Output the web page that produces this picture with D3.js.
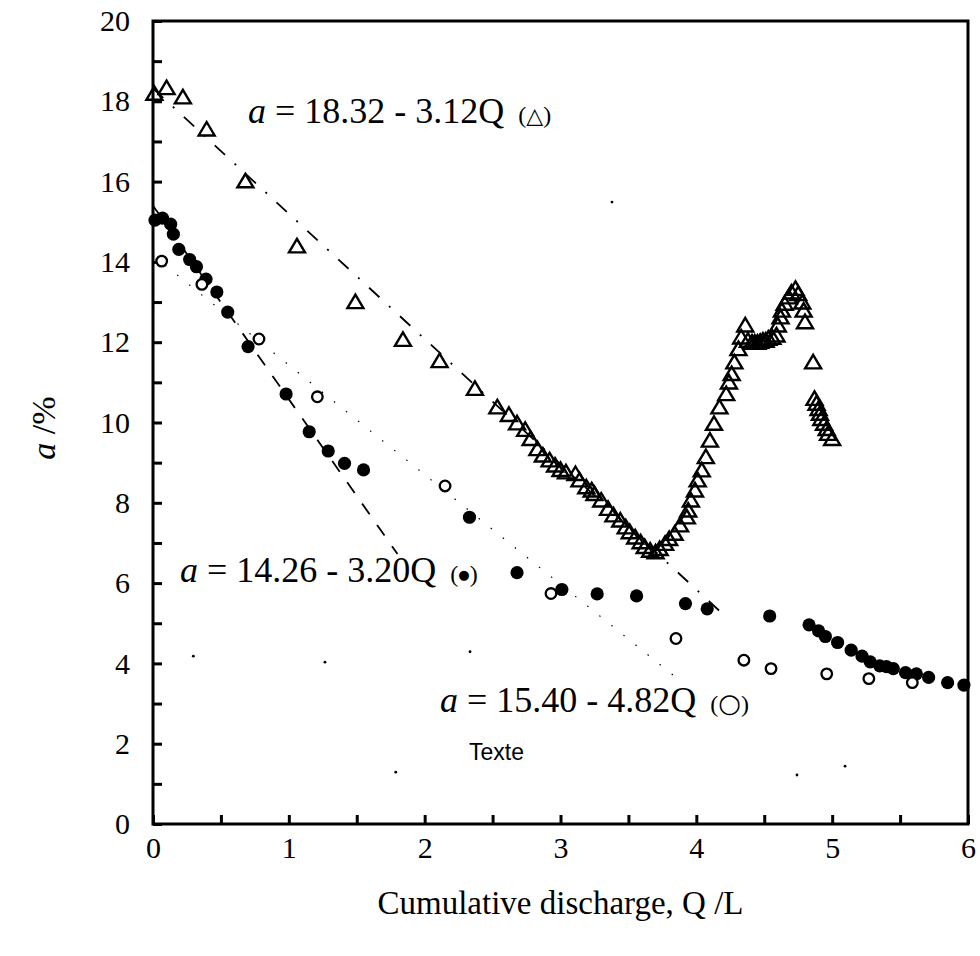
<!DOCTYPE html>
<html>
<head>
<meta charset="utf-8">
<script src="https://cdn.jsdelivr.net/npm/d3@7"></script>
<style>
  body { margin: 0; background: #fff; }
  svg text { font-family: "Liberation Serif", "Times New Roman", serif; fill: #000; }
</style>
</head>
<body>
<div id="chart"></div>
<script>
// triangles (Q, a)
const triQ = [0.01, 0.10, 0.22, 0.395, 0.68, 1.06, 1.49, 1.84, 2.11, 2.37, 2.535, 2.62, 2.68, 2.74, 2.78, 2.83, 2.87, 2.92, 2.96, 3.00,
  3.04, 3.11, 3.14, 3.19, 3.23, 3.25, 3.30, 3.35, 3.39, 3.44, 3.48, 3.51, 3.55, 3.59, 3.62, 3.66, 3.70, 3.73, 3.77, 3.80,
  3.84, 3.88, 3.93, 3.94, 3.96, 3.99, 4.01, 4.04, 4.07, 4.10, 4.13, 4.17, 4.22, 4.24, 4.26, 4.28, 4.31, 4.33, 4.36, 4.38,
  4.41, 4.43, 4.45, 4.47, 4.49, 4.51, 4.53, 4.56, 4.59, 4.60, 4.62, 4.63, 4.65, 4.68, 4.70, 4.73, 4.75, 4.78, 4.79, 4.80,
  4.86, 4.87, 4.885, 4.90, 4.91, 4.92, 4.94, 4.96, 4.97, 5.00];
const triA = [18.2, 18.34, 18.11, 17.31, 16.02, 14.40, 13.01, 12.07, 11.54, 10.85, 10.39, 10.20, 9.99, 9.83, 9.60, 9.35, 9.19, 9.07, 8.94, 8.83,
  8.77, 8.73, 8.57, 8.40, 8.32, 8.23, 8.07, 7.86, 7.70, 7.57, 7.40, 7.28, 7.15, 7.03, 6.91, 6.82, 6.78, 6.86, 6.99, 7.11,
  7.24, 7.45, 7.65, 7.82, 8.07, 8.32, 8.57, 8.82, 9.15, 9.56, 9.98, 10.39, 10.72, 11.01, 11.22, 11.51, 11.84, 12.13, 12.43, 12.05,
  12.0, 12.0, 12.0, 12.02, 12.05, 12.05, 12.1, 12.12, 12.18, 12.43, 12.63, 12.80, 12.97, 13.13, 13.25, 13.34, 13.21, 13.00, 12.80, 12.51,
  11.51, 10.60, 10.48, 10.35, 10.23, 10.10, 9.98, 9.85, 9.73, 9.60];

// filled circles
const fillQ = [0.015, 0.07, 0.13, 0.15, 0.19, 0.27, 0.32, 0.39, 0.47, 0.55, 0.70, 0.98, 1.15, 1.29, 1.41, 1.55, 2.33, 2.68, 3.01, 3.27,
  3.56, 3.92, 4.08, 4.54, 4.83, 4.90, 4.95, 5.04, 5.14, 5.22, 5.28, 5.35, 5.40, 5.45, 5.54, 5.62, 5.71, 5.85, 5.97];
const fillA = [15.04, 15.09, 14.94, 14.69, 14.31, 14.06, 13.88, 13.57, 13.25, 12.75, 11.89, 10.71, 9.77, 9.29, 8.98, 8.82, 7.64, 6.26, 5.84, 5.73,
  5.68, 5.49, 5.36, 5.18, 4.96, 4.81, 4.67, 4.52, 4.33, 4.18, 4.04, 3.94, 3.92, 3.87, 3.77, 3.74, 3.65, 3.52, 3.46];

// open circles
const openQ = [0.064, 0.36, 0.78, 1.21, 2.15, 2.93, 3.85, 4.35, 4.55, 4.96, 5.27, 5.59];
const openA = [14.02, 13.44, 12.08, 10.64, 8.42, 5.74, 4.62, 4.08, 3.87, 3.74, 3.62, 3.52];

// fit lines as drawn: intercept, slope, Q range, dash pattern
const fitIntercept = [18.32, 15.40, 14.16];
const fitSlope = [-3.12, -4.82, -2.73];
const fitQmax = [4.2, 1.8, 3.85];
const fitDash = ['14,13,2,13', '13,13', '1.5,14'];

// stray specks in the picture
const speckQ = [0.297, 1.266, 2.334, 1.787, 4.741, 5.095, 3.379];
const speckA = [4.18, 4.03, 4.29, 1.29, 1.22, 1.44, 15.49];

const xMajor = [0, 1, 2, 3, 4, 5, 6];
const yMajor = [0, 2, 4, 6, 8, 10, 12, 14, 16, 18, 20];

const width = 980, height = 956;
const x = d3.scaleLinear().domain([0, 6]).range([153, 968]);
const y = d3.scaleLinear().domain([0, 20]).range([824, 21]);

const svg = d3.select('#chart').append('svg')
  .attr('width', width)
  .attr('height', height);

// inner ticks
svg.append('g')
  .attr('transform', 'translate(0,824)')
  .call(d3.axisBottom(x).tickValues(d3.range(0, 6.01, 0.5)).tickSize(-9).tickFormat(''))
  .call(g => g.select('.domain').remove())
  .call(g => g.selectAll('line').attr('stroke', '#000').attr('stroke-width', 3));
svg.append('g')
  .attr('transform', 'translate(153,0)')
  .call(d3.axisLeft(y).tickValues(d3.range(0, 20.01, 1)).tickSize(-9).tickFormat(''))
  .call(g => g.select('.domain').remove())
  .call(g => g.selectAll('line').attr('stroke', '#000').attr('stroke-width', 3));

// tick labels
svg.append('g')
  .attr('transform', 'translate(0,824)')
  .call(d3.axisBottom(x).tickValues(xMajor).tickSize(0).tickPadding(13).tickFormat(d3.format('d')))
  .call(g => g.select('.domain').remove())
  .call(g => g.selectAll('text').attr('fill', '#000').style('font-size', '30px'));
svg.append('g')
  .attr('transform', 'translate(153,0)')
  .call(d3.axisLeft(y).tickValues(yMajor).tickSize(0).tickPadding(23).tickFormat(d3.format('d')))
  .call(g => g.select('.domain').remove())
  .call(g => g.selectAll('text').attr('fill', '#000').style('font-size', '30px'));

// frame
svg.append('rect')
  .attr('x', x(0)).attr('y', y(20))
  .attr('width', x(6) - x(0)).attr('height', y(0) - y(20))
  .attr('fill', 'none').attr('stroke', '#000').attr('stroke-width', 3);

// fit lines
fitIntercept.forEach((b, i) => {
  const pts = [[0, b], [fitQmax[i], b + fitSlope[i] * fitQmax[i]]];
  svg.append('path')
    .attr('d', d3.line().x(d => x(d[0])).y(d => y(d[1]))(pts))
    .attr('fill', 'none')
    .attr('stroke', '#000')
    .attr('stroke-width', i === 2 ? 1.2 : 1.8)
    .attr('stroke-dasharray', fitDash[i]);
});

// specks
svg.selectAll('.speck')
  .data(speckQ.map((q, i) => [q, speckA[i]]))
  .enter().append('circle')
  .attr('class', 'speck')
  .attr('cx', d => x(d[0])).attr('cy', d => y(d[1]))
  .attr('r', 1.4).attr('fill', '#000');

// triangles
const tri = {
  draw(ctx) {
    ctx.moveTo(0, -7);
    ctx.lineTo(8, 6.5);
    ctx.lineTo(-8, 6.5);
    ctx.closePath();
  }
};
svg.selectAll('.tri')
  .data(triQ.map((q, i) => [q, triA[i]]))
  .enter().append('path')
  .attr('class', 'tri')
  .attr('d', d3.symbol().type(tri))
  .attr('transform', d => 'translate(' + x(d[0]) + ',' + y(d[1]) + ')')
  .attr('fill', 'none').attr('stroke', '#000').attr('stroke-width', 2.4);

// filled circles
svg.selectAll('.fill')
  .data(fillQ.map((q, i) => [q, fillA[i]]))
  .enter().append('circle')
  .attr('class', 'fill')
  .attr('cx', d => x(d[0])).attr('cy', d => y(d[1]))
  .attr('r', 6.6).attr('fill', '#000');

// open circles
svg.selectAll('.open')
  .data(openQ.map((q, i) => [q, openA[i]]))
  .enter().append('circle')
  .attr('class', 'open')
  .attr('cx', d => x(d[0])).attr('cy', d => y(d[1]))
  .attr('r', 5.3).attr('fill', '#fff').attr('stroke', '#000').attr('stroke-width', 2.3);

// equation labels
const eqText = ['18.32 - 3.12Q', '14.26 - 3.20Q', '15.40 - 4.82Q'];
const eqSym = ['\u25B3', '\u25CF', '\u25CB'];
const eqSymSize = ['22px', '13px', '26px'];
const eqX = [248, 180, 440];
const eqY = [123, 582, 712];
eqText.forEach((t, i) => {
  const txt = svg.append('text')
    .attr('x', eqX[i]).attr('y', eqY[i])
    .style('font-size', '36px');
  txt.append('tspan').style('font-style', 'italic').text('a');
  txt.append('tspan').text(' = ' + t);
  txt.append('tspan').attr('dx', 14).style('font-size', '24px').text('(');
  txt.append('tspan')
    .style('font-size', eqSymSize[i])
    .style('font-family', '"DejaVu Sans", sans-serif')
    .style('font-weight', i === 2 ? 'normal' : 'normal')
    .attr('dy', i === 1 ? -3 : 0)
    .text(eqSym[i]);
  txt.append('tspan')
    .attr('dy', i === 1 ? 3 : 0)
    .style('font-size', '24px').text(')');
});

svg.append('text')
  .attr('x', 469).attr('y', 760)
  .style('font-family', '"Liberation Sans", Arial, sans-serif')
  .style('font-size', '23px')
  .text('Texte');

// axis titles
svg.append('text')
  .attr('x', (x(0) + x(6)) / 2).attr('y', 914)
  .attr('text-anchor', 'middle')
  .style('font-size', '33px')
  .text('Cumulative discharge, Q /L');

const yt = svg.append('text')
  .attr('transform', 'translate(55,428) rotate(-90)')
  .attr('text-anchor', 'middle')
  .style('font-size', '34px');
yt.append('tspan').style('font-style', 'italic').text('a');
yt.append('tspan').text(' /%');
</script>
</body>
</html>
